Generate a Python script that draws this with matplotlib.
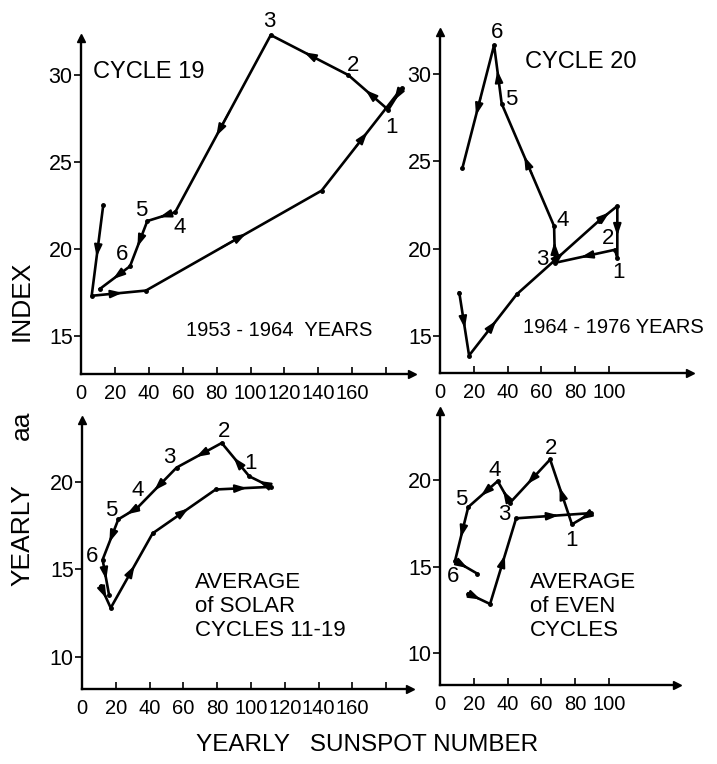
import matplotlib.pyplot as plt

plt.rcParams['font.family'] = ['Liberation Sans', 'DejaVu Sans']

# cycle 19 (1953-1964): yearly sunspot number vs yearly aa index
c19_ssn = [13.1, 6.3, 38.3, 141.9, 189.2, 181.2, 157.6, 111.9, 55.5, 39.1, 28.9, 11.2]
c19_aa = [22.5, 17.3, 17.6, 23.35, 29.25, 28.0, 30.0, 32.3, 22.1, 21.6, 19.0, 17.7]
c19_marks = ["", "", "", "", "", "1", "2", "3", "4", "5", "6", ""]

# cycle 20 (1964-1976)
c20_ssn = [11.4, 17.2, 45.4, 94.0, 104.9, 104.9, 103.6, 68.0, 67.5, 36.5, 32.0, 13.2]
c20_aa = [17.5, 13.9, 17.4, 21.6, 22.45, 19.45, 19.95, 19.2, 21.3, 28.3, 31.65, 24.6]
c20_marks = ["", "", "", "", "", "1", "2", "3", "4", "5", "6", ""]

# average of solar cycles 11-19
avg_ssn = [11.1, 17.0, 41.8, 79.1, 111.7, 99.0, 82.7, 56.0, 32.7, 21.5, 12.2, 16.0]
avg_aa = [14.05, 12.8, 17.05, 19.55, 19.7, 20.3, 22.2, 20.8, 18.5, 17.85, 15.55, 13.55]
avg_marks = ["", "", "", "", "", "1", "2", "3", "4", "5", "6", ""]

# average of even cycles
even_ssn = [16.7, 29.6, 45.0, 89.2, 78.0, 65.1, 41.4, 34.1, 16.7, 8.9, 22.1]
even_aa = [13.45, 12.85, 17.8, 18.1, 17.45, 21.2, 18.7, 19.95, 18.45, 15.35, 14.6]
even_marks = ["", "", "", "", "1", "2", "3", "4", "5", "6", ""]

W, H = 717, 764
fig = plt.figure(figsize=(W / 100, H / 100), dpi=100)


def rect(left, right, bottom, top):
    # pixel box -> figure fraction
    return [left / W, 1 - bottom / H, (right - left) / W, (bottom - top) / H]


def panel(box, xlim, ylim, xticks, xlabels, yticks, ssn, aa, marks, offsets):
    ax = fig.add_axes(box)
    ax.set_xlim(*xlim)
    ax.set_ylim(*ylim)
    ax.plot(ssn, aa, color='k', lw=1.9, clip_on=False)
    ax.plot(ssn, aa, 'o', color='k', ms=2.5, clip_on=False)
    for i in range(len(ssn) - 1):
        x0, y0, x1, y1 = ssn[i], aa[i], ssn[i + 1], aa[i + 1]
        if abs(x1 - x0) < 3 and abs(y1 - y0) < 1:
            continue
        ax.annotate('', xy=(x0 + 0.57 * (x1 - x0), y0 + 0.57 * (y1 - y0)),
                    xytext=(x0 + 0.43 * (x1 - x0), y0 + 0.43 * (y1 - y0)),
                    arrowprops=dict(arrowstyle='-|>,head_length=0.9,head_width=0.3',
                                    color='k', lw=1.4, shrinkA=0, shrinkB=0,
                                    mutation_scale=8),
                    annotation_clip=False)
    k = 0
    for x, y, m in zip(ssn, aa, marks):
        if m:
            ax.annotate(m, (x, y), xytext=offsets[k], textcoords='offset pixels',
                        ha='center', va='center', fontsize=16, annotation_clip=False)
            k += 1
    for s in ['top', 'right']:
        ax.spines[s].set_visible(False)
    for s in ['left', 'bottom']:
        ax.spines[s].set_linewidth(1.7)
    ax.plot(1, 0, '>k', ms=6, transform=ax.transAxes, clip_on=False)
    ax.plot(0, 1, '^k', ms=6, transform=ax.transAxes, clip_on=False)
    ax.set_xticks(xticks)
    ax.set_xticklabels(xlabels)
    ax.set_yticks(yticks)
    ax.tick_params(axis='x', direction='in', length=5, width=1.2, labelsize=14.5, pad=7)
    ax.tick_params(axis='y', direction='out', length=5, width=1.2, labelsize=15.5, pad=1)
    return ax


ticks19 = list(range(0, 181, 20))
labels19 = [str(t) for t in ticks19[:-1]] + ['']
ticks20 = list(range(0, 101, 20))
labels20 = [str(t) for t in ticks20]

panel(rect(81, 412, 374, 38), (0, 195.2), (12.8, 32.13), ticks19, labels19, [15, 20, 25, 30],
      c19_ssn, c19_aa, c19_marks,
      [(3, -18), (5, 10), (-1, 14), (5, -15), (-6, 11), (-8, 12)])
panel(rect(440, 690, 373, 32), (0, 147.9), (12.9, 32.4), ticks20, labels20, [15, 20, 25, 30],
      c20_ssn, c20_aa, c20_marks,
      [(1, -14), (-7, 11), (-13, 3), (9, 6), (10, 4), (3, 13)])
panel(rect(82, 410, 689, 420), (0, 194.1), (8.18, 23.51), ticks19, labels19, [10, 15, 20],
      avg_ssn, avg_aa, avg_marks,
      [(1, 13), (2, 11), (-7, 10), (0, 17), (-7, 9), (-11, 3)])
panel(rect(440, 677, 685, 411), (0, 140.1), (8.17, 24.0), ticks20, labels20, [10, 15, 20],
      even_ssn, even_aa, even_marks,
      [(0, -16), (1, 11), (-6, -12), (-3, 11), (-7, 8), (-2, -16)])


def ftext(x, y, s, size, **kw):
    fig.text(x / W, 1 - y / H, s, fontsize=size, **kw)


ftext(93, 72, "CYCLE 19", 17, va='center')
ftext(525, 62, "CYCLE 20", 17, va='center')
ftext(186, 330, "1953 - 1964  YEARS", 14.5, va='center')
ftext(523, 327, "1964 - 1976 YEARS", 14.5, va='center')
ftext(195, 572, "AVERAGE\nof SOLAR\nCYCLES 11-19", 16, va='top', linespacing=1.2)
ftext(530, 572, "AVERAGE\nof EVEN\nCYCLES", 16, va='top', linespacing=1.2)
ftext(22, 535, "YEARLY", 19, rotation=90, ha='center', va='center')
ftext(22, 425, "aa", 19, rotation=90, ha='center', va='center')
ftext(22, 301, "INDEX", 19, rotation=90, ha='center', va='center')
ftext(367, 745, "YEARLY   SUNSPOT NUMBER", 17.5, ha='center', va='center')

fig.savefig("out.png", dpi=100)
